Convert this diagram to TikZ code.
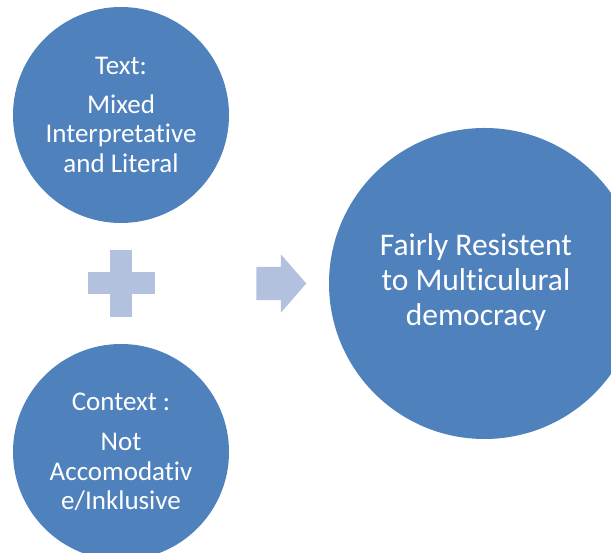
\documentclass[tikz,border=0pt]{standalone}
\usepackage{fontspec}
\setmainfont{Carlito}[Ligatures=NoCommon]
\usepackage{tikz}
\usetikzlibrary{shapes,positioning}
\usepackage{xcolor}
\definecolor{eqblue}{RGB}{79,129,189}
\definecolor{eqlight}{RGB}{178,193,221}
\tikzstyle{term} = [circle, minimum size=216pt, inner sep=0pt, fill=eqblue, text=white, align=center, font=\fontsize{27}{29.5}\selectfont]
\tikzstyle{result} = [term, minimum size=311pt, font=\fontsize{31.5}{35}\selectfont]
\tikzstyle{plusbar} = [rectangle, inner sep=0pt, fill=eqlight, minimum width=67pt, minimum height=22pt]
\tikzstyle{gives} = [single arrow, inner xsep=0pt, inner ysep=16.5pt, fill=eqlight, minimum height=50pt, minimum width=58pt, single arrow head extend=12.5pt, single arrow tip angle=98]

\begin{document}
\begin{tikzpicture}[x=1pt, y=1pt, node distance=168.5pt]
\useasboundingbox (0,0) rectangle (611,553);
\clip (0,0) rectangle (611,553);
% Left terms
\node (txt) [term] at (121,438) {Text:\\[9pt]Mixed\\Interpretative\\and Literal};
\node (plus) [plusbar, below of=txt] {};
\node (plusv) [plusbar, minimum width=22pt, minimum height=67pt] at (plus) {};
\node (ctx) [term, below of=plus] {Context :\\[11pt]Not\\Accomodativ\\e/Inklusive};

% Outcome
\node (arr) [gives, right of=plus, node distance=153pt] {};
\node (res) [result, right of=arr, node distance=210.5pt] {
\raisebox{4pt}{\begin{tabular}{c}
Fairly Resistent\\
to Multiculural\\
democracy
\end{tabular}}\hspace{10pt}
};
\end{tikzpicture}
\end{document}
